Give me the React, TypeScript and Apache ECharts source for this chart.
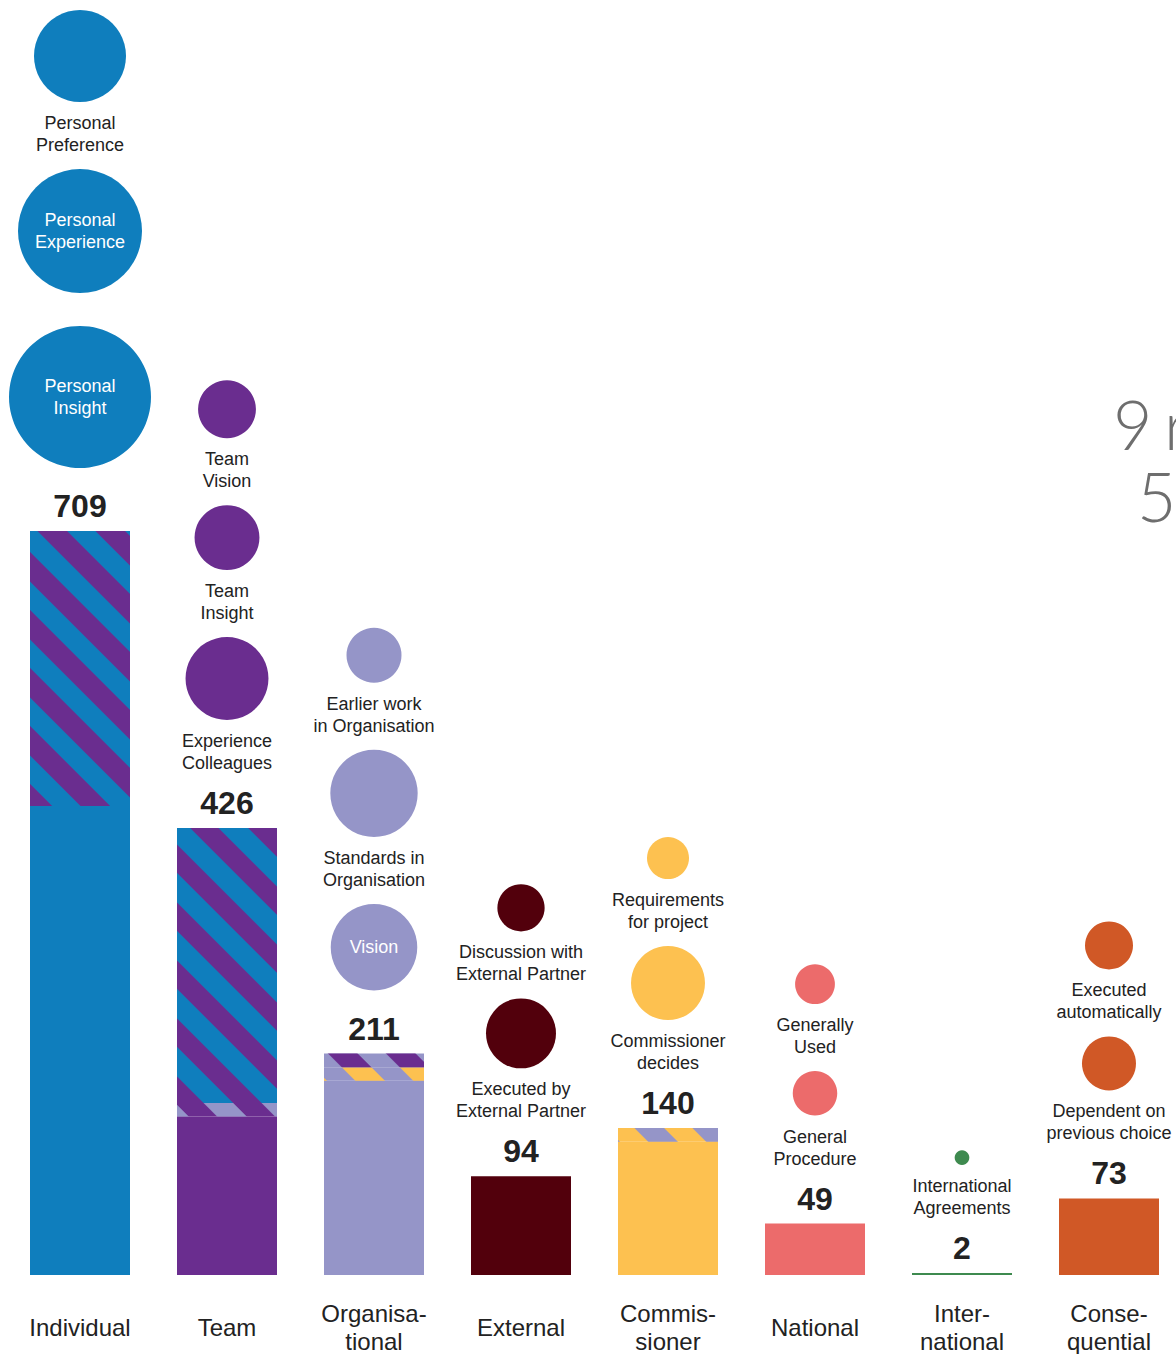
import React, { useEffect, useRef } from "react";
import * as echarts from "echarts";

// ---------- data ----------
const categories = [
  "Individual",
  "Team",
  "Organisa-\ntional",
  "External",
  "Commis-\nsioner",
  "National",
  "Inter-\nnational",
  "Conse-\nquential",
];
const totals = [709, 426, 211, 94, 140, 49, 2, 73];

// striped (shared) portions at the top of each bar, and the category they are shared with
const upperShared = [262, 262, 13, 0, 13, 0, 0, 0];
const upperSharedWith = [1, 0, 1, -1, 2, -1, -1, -1];
const lowerShared = [0, 13, 13, 0, 0, 0, 0, 0];
const lowerSharedWith = [-1, 2, 4, -1, -1, -1, -1, -1];

// bubbles per category, listed top to bottom
const bubbleLabels = [
  ["Personal\nPreference", "Personal\nExperience", "Personal\nInsight"],
  ["Team\nVision", "Team\nInsight", "Experience\nColleagues"],
  ["Earlier work\nin Organisation", "Standards in\nOrganisation", "Vision"],
  ["Discussion with\nExternal Partner", "Executed by\nExternal Partner"],
  ["Requirements\nfor project", "Commissioner\ndecides"],
  ["Generally\nUsed", "General\nProcedure"],
  ["International\nAgreements"],
  ["Executed\nautomatically", "Dependent on\nprevious choice"],
];
const bubbleValues = [
  [235, 427, 560],
  [93, 117, 191],
  [84, 212, 208],
  [62, 136],
  [49, 152],
  [44, 55],
  [6],
  [64, 81],
];
const bubbleLabelInside = [
  [false, true, true],
  [false, false, false],
  [false, false, true],
  [false, false],
  [false, false],
  [false, false],
  [false],
  [false, false],
];

const rightTexts = ["9", "r", "5"];

// ---------- style ----------
const palette = [
  "#0f7ebd",
  "#6a2d8f",
  "#9595c8",
  "#52000c",
  "#fdc150",
  "#ec6b6b",
  "#3e8a4f",
  "#d05826",
];
const FONT = '"Liberation Sans", Arial, Helvetica, sans-serif';
const LINE = 22;
const bubbleDiameter = (v: number) => 6 * Math.sqrt(v);

const stripeDecal = (c: string) => ({
  color: c,
  symbol: "rect",
  symbolSize: 1,
  symbolKeepAspect: false,
  dashArrayX: [20, 0],
  dashArrayY: [21, 20],
  rotation: Math.PI / 4,
});

function renderColumn(params: any, api: any) {
  const i = params.dataIndex;
  const p = api.coord([i, totals[i]]);
  const cx = p[0];
  const barTop = p[1];
  const children: any[] = [];
  const numY = barTop - 25;
  children.push({
    type: "text",
    style: {
      text: String(totals[i]),
      x: cx,
      y: numY,
      textAlign: "center",
      textVerticalAlign: "middle",
      font: `bold 32px ${FONT}`,
      fill: "#222222",
    },
  });
  let prevTop = numY;
  let prevIsNumber = true;
  const labels = bubbleLabels[i];
  for (let k = labels.length - 1; k >= 0; k--) {
    const r = bubbleDiameter(bubbleValues[i][k]) / 2;
    const lines = labels[k].split("\n");
    let cy: number;
    if (bubbleLabelInside[i][k]) {
      const bottom = prevIsNumber ? numY - 38 : prevTop - 33;
      cy = bottom - r;
      children.push({ type: "circle", shape: { cx, cy, r }, style: { fill: palette[i] } });
      children.push({
        type: "text",
        style: {
          text: labels[k],
          x: cx,
          y: cy,
          textAlign: "center",
          textVerticalAlign: "middle",
          font: `18px ${FONT}`,
          lineHeight: LINE,
          fill: "#ffffff",
        },
      });
    } else {
      const last = prevIsNumber ? numY - 40 : prevTop - 24;
      const first = last - LINE * (lines.length - 1);
      const bottom = first - 21;
      cy = bottom - r;
      children.push({ type: "circle", shape: { cx, cy, r }, style: { fill: palette[i] } });
      children.push({
        type: "text",
        style: {
          text: labels[k],
          x: cx,
          y: (first + last) / 2,
          textAlign: "center",
          textVerticalAlign: "middle",
          font: `18px ${FONT}`,
          lineHeight: LINE,
          fill: "#222222",
        },
      });
    }
    prevTop = cy - r;
    prevIsNumber = false;
  }
  return { type: "group", children };
}

export default function App() {
  const ref = useRef<HTMLDivElement>(null);
  useEffect(() => {
    if (!ref.current) return;
    const chart = echarts.init(ref.current, undefined, { renderer: "svg" });
    const base = totals.map((t, i) => t - upperShared[i] - lowerShared[i]);
    const bigFont = `300 68px Lato, ${FONT}`;
    const option: any = {
      animation: false,
      grid: { left: 6.5, top: 0, bottom: 79, width: 1176, outerBoundsMode: "none", containLabel: false },
      xAxis: {
        type: "category",
        data: categories,
        axisLine: { show: false },
        axisTick: { show: false },
        splitLine: { show: false },
        axisLabel: {
          interval: 0,
          fontSize: 24,
          fontFamily: FONT,
          color: "#222222",
          lineHeight: 28,
          verticalAlign: "middle",
          margin: 52,
          hideOverlap: false,
        },
      },
      yAxis: { type: "value", min: 0, max: 1215, show: false },
      graphic: [
        {
          type: "text",
          x: 1113,
          y: 423,
          style: { text: rightTexts[0], font: bigFont, fill: "#6e6e6e", textVerticalAlign: "middle" },
        },
        {
          type: "text",
          x: 1164,
          y: 423,
          style: { text: rightTexts[1], font: bigFont, fill: "#6e6e6e", textVerticalAlign: "middle" },
        },
        {
          type: "text",
          x: 1137,
          y: 495,
          style: { text: rightTexts[2], font: bigFont, fill: "#6e6e6e", textVerticalAlign: "middle" },
        },
      ],
      series: [
        {
          type: "bar",
          stack: "total",
          barWidth: 100,
          silent: true,
          data: base.map((v, i) => ({ value: v, itemStyle: { color: palette[i] } })),
        },
        {
          type: "bar",
          stack: "total",
          barWidth: 100,
          silent: true,
          data: lowerShared.map((v, i) => ({
            value: v,
            itemStyle:
              lowerSharedWith[i] >= 0
                ? { color: palette[i], decal: stripeDecal(palette[lowerSharedWith[i]]) }
                : { color: palette[i] },
          })),
        },
        {
          type: "bar",
          stack: "total",
          barWidth: 100,
          silent: true,
          data: upperShared.map((v, i) => ({
            value: v,
            itemStyle:
              upperSharedWith[i] >= 0
                ? { color: palette[i], decal: stripeDecal(palette[upperSharedWith[i]]) }
                : { color: palette[i] },
          })),
        },
        {
          type: "custom",
          silent: true,
          clip: false,
          z: 5,
          data: totals.map((t, i) => [i, t]),
          renderItem: renderColumn,
        },
      ],
    };
    chart.setOption(option);
    return () => chart.dispose();
  }, []);
  return (
    <div
      ref={ref}
      style={{ position: "absolute", left: 0, top: 0, width: 1176, height: 1354 }}
    />
  );
}
